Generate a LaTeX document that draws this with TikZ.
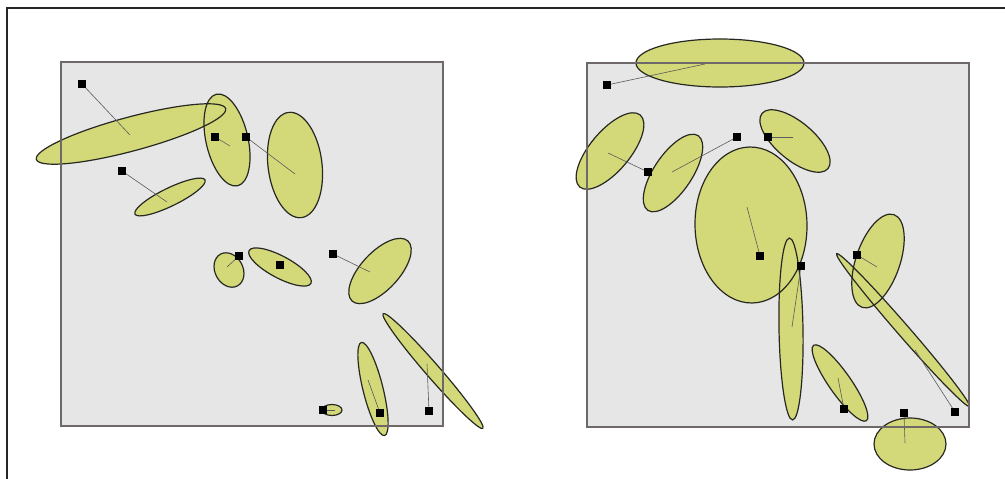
\documentclass[tikz,border=0pt]{standalone}
\definecolor{ellcol}{RGB}{211,217,120}
\definecolor{boxcol}{RGB}{230,230,230}
\definecolor{boxedge}{RGB}{110,104,104}
\definecolor{outline}{RGB}{40,40,35}
\definecolor{lnkcol}{RGB}{90,90,90}
\begin{document}
\begin{tikzpicture}[x=1pt,y=-1pt,
  panel/.style={fill=boxcol},
  panelborder/.style={draw=boxedge,line width=1.4pt},
  ellfill/.style={fill=ellcol},
  elledge/.style={draw=outline,line width=1.2pt},
  mk/.style={fill=black,minimum size=8pt,inner sep=0pt,outer sep=0pt},
  lnk/.style={draw=lnkcol,line width=0.6pt},
  frame/.style={draw=black!85,line width=1.3pt}]
\useasboundingbox (0,0) rectangle (1005,479);
% panels
\coordinate (LA) at (61,62); \coordinate (LB) at (443,426);
\coordinate (RA) at (587,63); \coordinate (RB) at (969,427);
\fill[panel] (LA) rectangle (LB);
\fill[panel] (RA) rectangle (RB);
\def\ellipses{131/134/98/17/15, 227/140/47/21/103, 295/165/53/27/97, 170/197/39/9/26,
  229/270/18/14/-62, 280/267/35/11/-28, 380/271/41/19/47, 433/371/76/7/-49,
  373/389/48/10/-76, 332/410/10/5.5/0,
  720/63/84/24/0, 610/151/47/20/50, 673/173/45/19/56, 795/141/43/19/-40,
  751/225/78/56/91, 791/329/91/12/91, 840/383/46/11/-55, 878/261/49/22/71,
  903/330/101/6/-49, 910/444/36/26/0}
\foreach \cx/\cy/\a/\b/\t in \ellipses {
  \fill[ellfill,shift={(\cx,\cy)},rotate=\t] (0,0) ellipse [x radius=\a, y radius=\b];
}
\foreach \cx/\cy/\a/\b/\t in \ellipses {
  \draw[elledge,shift={(\cx,\cy)},rotate=\t] (0,0) ellipse [x radius=\a, y radius=\b];
}
% markers
\node[mk] (m1) at (82,84) {};
\node[mk] (m2) at (215,137) {};
\node[mk] (m3) at (246,137) {};
\node[mk] (m4) at (122,171) {};
\node[mk] (m5) at (239,256) {};
\node[mk] (m6) at (280,265) {};
\node[mk] (m7) at (333,254) {};
\node[mk] (m8) at (429,411) {};
\node[mk] (m9) at (380,413) {};
\node[mk] (m10) at (323,410) {};
\node[mk] (n1) at (607,85) {};
\node[mk] (n2) at (648,172) {};
\node[mk] (n3) at (737,137) {};
\node[mk] (n4) at (768,137) {};
\node[mk] (n5) at (760,256) {};
\node[mk] (n6) at (801,266) {};
\node[mk] (n7) at (844,409) {};
\node[mk] (n8) at (857,255) {};
\node[mk] (n9) at (955,412) {};
\node[mk] (n10) at (904,413) {};
% connector ends
\coordinate (e1) at (130,135);
\coordinate (e2) at (230,146);
\coordinate (e3) at (295,174);
\coordinate (e4) at (167,202);
\coordinate (e5) at (227,267);
\coordinate (e7) at (370,272);
\coordinate (e8) at (427,364);
\coordinate (e9) at (368,380);
\coordinate (e10) at (335,410);
\coordinate (f1) at (705,64);
\coordinate (f2) at (608,153);
\coordinate (f3) at (672,172);
\coordinate (f4) at (793,137);
\coordinate (f5) at (747,207);
\coordinate (f6) at (792,327);
\coordinate (f7) at (838,378);
\coordinate (f8) at (877,267);
\coordinate (f9) at (915,350);
\coordinate (f10) at (905,443);
\foreach \m/\e in {m1/e1,m2/e2,m3/e3,m4/e4,m5/e5,m7/e7,m8/e8,m9/e9,m10/e10,
  n1/f1,n2/f2,n3/f3,n4/f4,n5/f5,n6/f6,n7/f7,n8/f8,n9/f9,n10/f10}
  \draw[lnk] (\m.center) -- (\e);
% redraw markers on top of connectors
\foreach \m in {m1,m2,m3,m4,m5,m6,m7,m8,m9,m10,n1,n2,n3,n4,n5,n6,n7,n8,n9,n10}
  \fill[black] ([xshift=-4pt,yshift=-4pt]\m.center) rectangle ([xshift=4pt,yshift=4pt]\m.center);
% panel borders
\draw[panelborder] (LA) rectangle (LB);
\draw[panelborder] (RA) rectangle (RB);
% outer frame
\coordinate (F1) at (7,479); \coordinate (F2) at (7,8); \coordinate (F3) at (1005,8);
\draw[frame] (F1) -- (F2) -- (F3);
\end{tikzpicture}
\end{document}
